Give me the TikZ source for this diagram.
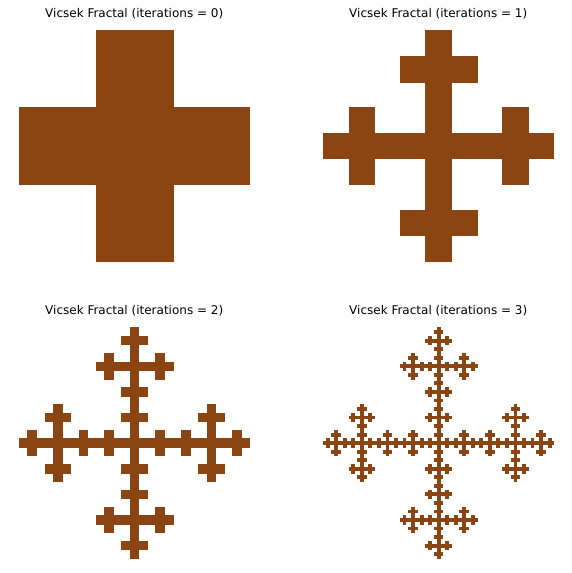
\documentclass[tikz,border=0pt]{standalone}
\usepackage{fontspec}
\setmainfont{DejaVu Sans}
\definecolor{saddle}{HTML}{8B4513}

\tikzset{
  fractal/.style={fill=saddle, draw=saddle, line width=0.2pt},
  plottitle/.style={anchor=base, font=\fontsize{12}{14}\selectfont, inner sep=0pt}
}

% one cell of the cross fractal, unit square, #1 = remaining subdivisions
\newcommand\vicsekpart[1]{%
  \ifnum#1=0
    \path[fractal] (0,0) rectangle (1,1);
  \else
    \foreach \cx/\cy in {1/0,0/1,1/1,2/1,1/2}{
      \begin{scope}[shift={(\cx/3,\cy/3)}, scale=1/3]
        \vicsekpart{\numexpr#1-1\relax}
      \end{scope}}%
  \fi}

\begin{document}
\begin{tikzpicture}[x=1pt, y=1pt]
  \useasboundingbox[fill=white] (0,0) rectangle (572,573);

  \foreach \n/\px/\py/\ty in {0/19/312/555.7, 1/323/312/555.7, 2/19/15/258.7, 3/323/15/258.7}{
    \node[plottitle] (title\n) at (\px+115.25,\ty) {Vicsek Fractal (iterations = \n)};
    \begin{scope}[shift={(\px,\py)}, scale=230.5]
      \vicsekpart{\numexpr\n+1\relax}
    \end{scope}
  }
\end{tikzpicture}
\end{document}
